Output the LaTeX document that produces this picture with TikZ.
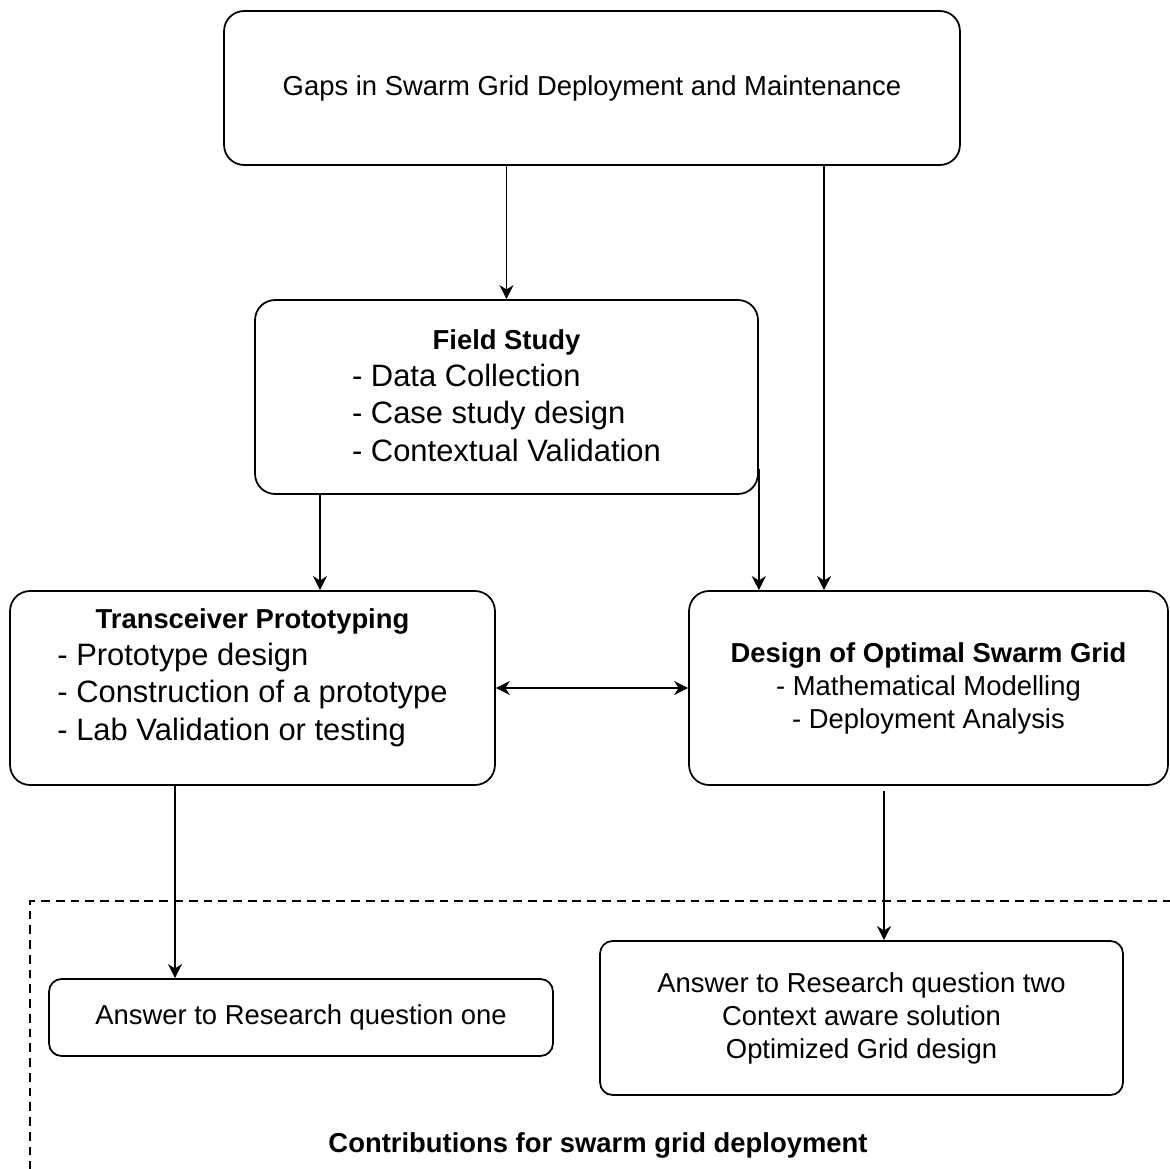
\documentclass[tikz,border=0pt]{standalone}
\usepackage{fontspec}
\setmainfont{Liberation Sans}
\usetikzlibrary{arrows.meta,positioning,calc}

\newcommand{\txtsz}{\fontsize{15.6pt}{18.8pt}\selectfont}
\newcommand{\lstsz}{\fontsize{17.6pt}{21.3pt}\selectfont}

\begin{document}
\begin{tikzpicture}[x=0.02cm, y=-0.02cm,
  box/.style={draw, line width=1pt, rounded corners=0.4cm, inner sep=0pt, align=center, font=\txtsz},
  ansbox/.style={box, rounded corners=0.25cm},
  arr/.style={line width=1pt, -{Stealth[length=8pt, width=8pt, inset=2.5pt]}},
  zone/.style={draw, line width=1pt, dash pattern=on 5pt off 3.4pt}
]
\useasboundingbox (0,0) rectangle (1170,1169);

\node[box, minimum width=14.72cm, minimum height=3.08cm] (gaps) at (592,88) {Gaps in Swarm Grid Deployment and Maintenance};
\node[box, minimum width=10.06cm, minimum height=3.88cm] (field) at (506.5,397) {};
\node[align=center, font=\txtsz, inner sep=0pt] (fieldtxt) at (506.5,401) {\textbf{Field Study}\\[2pt]
  {\lstsz\begin{tabular}{@{}l@{}}- Data Collection\\ - Case study design\\ - Contextual Validation\end{tabular}}};
\node[box, minimum width=9.7cm, minimum height=3.88cm] (trans) at (252.5,688) {};
\node[align=center, font=\txtsz, inner sep=0pt] (transtxt) at (252.5,680) {\textbf{Transceiver Prototyping}\\[2pt]
  {\lstsz\begin{tabular}{@{}l@{}}- Prototype design\\ - Construction of a prototype\\ - Lab Validation or testing\end{tabular}}};
\node[box, minimum width=9.58cm, minimum height=3.88cm] (dsgn) at (928.5,688) {\textbf{Design of Optimal Swarm Grid}\\ - Mathematical Modelling\\ - Deployment Analysis};

% contributions
\draw[zone] (30,1185) -- (30,901) -- (1185,901);
\node[ansbox, minimum width=10.08cm, minimum height=1.54cm] (ans1) at (301,1017.5) {Answer to Research question one};
\node[ansbox, minimum width=10.46cm, minimum height=3.08cm] (ans2) at (861.5,1018) {Answer to Research question two\\ Context aware solution\\ Optimized Grid design};
\node[font=\txtsz\bfseries] (contrib) at (598,1145) {Contributions for swarm grid deployment};

\coordinate (fieldout) at ([yshift=15pt]field.south east);
\draw[arr] (gaps.south -| field.north) -- (field.north);
\draw[arr] ([xshift=-2.09cm]dsgn.north |- gaps.south) -- ([xshift=-2.09cm]dsgn.north);
\draw[arr] (fieldout) -- (fieldout |- dsgn.north);
\draw[arr] ([xshift=1.35cm]trans.north |- field.south) -- ([xshift=1.35cm]trans.north);
\draw[line width=1pt, {Stealth[length=8pt, width=8pt, inset=2.5pt]}-{Stealth[length=8pt, width=8pt, inset=2.5pt]}] (trans.east) -- (dsgn.west);
\draw[arr] ([xshift=-1.55cm]trans.south) -- ([xshift=-1.55cm]trans.south |- ans1.north);
\draw[arr] ([xshift=-0.89cm, yshift=-3pt]dsgn.south) -- ([xshift=-0.89cm]dsgn.south |- ans2.north);
\end{tikzpicture}
\end{document}
